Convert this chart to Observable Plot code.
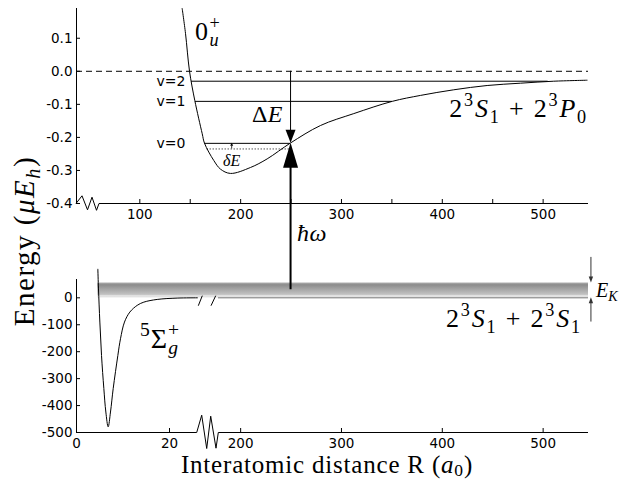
<!DOCTYPE html>
<html><head><meta charset="utf-8">
<script src="https://cdn.jsdelivr.net/npm/d3@7"></script>
<script src="https://cdn.jsdelivr.net/npm/@observablehq/plot@0.6"></script>
<style>
html,body{margin:0;padding:0;background:#fff;}
#chart{position:relative;width:639px;height:481px;background:#fff;}
#chart svg{position:absolute;left:0;top:0;}
</style></head><body><div id="chart"></div>
<script>
// ---------- data ----------
// 0u+ potential (upper panel), R in a0, E in micro-Eh
const upperR = [142.0,145.3,149.3,154.5,161.9,164.2,173.4,180.0,189.9,209.8,226.3,249.4,279.2,312.2,350.3,378.3,411.3,444.5,477.5,510.5,543.6];
const upperE = [0.190,0.115,0.000,-0.088,-0.189,-0.218,-0.270,-0.296,-0.309,-0.291,-0.265,-0.217,-0.164,-0.128,-0.091,-0.073,-0.056,-0.043,-0.036,-0.030,-0.027];
// vibrational levels
const levelName = ["v=0","v=1","v=2"];
const levelE    = [-0.218,-0.091,-0.030];
const levelFrom = [164.2,155.2,151.3];
const levelTo   = [249.4,350.6,505.0];
const levelLabelR = 145.3;
const deltaLevelE = -0.235, deltaFrom = 166.8, deltaTo = 249.4, deltaArrowR = 191.6;
// 5Sigma_g+ potential (lower panel)
const lowerR = [4.59,4.73,5.02,5.38,5.88,6.31,6.81,7.31,7.89,8.89,9.46,10.32,11.47,13.05,14.48,17.35,21.65,26.0];
const lowerE = [106,33,-90,-214,-337,-424,-479,-424,-337,-214,-152,-90,-53,-28,-16,-6,-1,0];
// thermal band E_K and transition
const bandFrom = 4.58, bandTo = 545, bandTop = 55, bandBottom = 0;
const transitionR = 250, transitionTailE = 30, transitionE = -0.218;
const ekR = 547.9;
// ticks
const topYTicks = [0.1,0.0,-0.1,-0.2,-0.3,-0.4];
const topXTicks = [100,150,200,250,300,350,400,450,500];
const lowYTicks = [0,-100,-200,-300,-400,-500];
const lowXTicks = [0,20,200,300,400,500];
// domains (lower x axis is broken between 26.45 and 178)
const topXDomain = [37.2, 545], topYDomain = [-0.4, 0.19];
const lowXPieces = [0, 26.45, 178, 545], lowYDomain = [-500, 68];

// ---------- helpers ----------
const W = 639, H = 481;
const NS = "http://www.w3.org/2000/svg";
const SERIF = "'Liberation Serif', 'DejaVu Serif', serif";
const SANS = "'DejaVu Sans', sans-serif";
function el(name, attrs) { const e = document.createElementNS(NS, name); for (const k in attrs) if (attrs[k] != null) e.setAttribute(k, attrs[k]); return e; }

// broken-axis mapping of the lower panel onto the upper panel's R units
const breakX = d3.scaleLinear().domain(lowXPieces).range([topXDomain[0], 159.2, 178, 545]);

function buildMath(runs, size, anchor, spacing = 0, subShift = 0.22) {
  const text = el("text", {"font-family": SERIF, fill: "black", "text-anchor": anchor, "letter-spacing": spacing, style: "white-space:pre"});
  let cur = 0, lastW = 0;
  for (const r of runs) {
    const small = r.pos === "sup" || r.pos === "sub";
    const fs = small ? size * 0.7 : size;
    const shift = r.pos === "sup" ? -0.42 * size : r.pos === "sub" ? subShift * size : 0;
    const ts = el("tspan", {"font-size": fs, dy: (shift - cur).toFixed(2), dx: r.stack ? (-lastW).toFixed(2) : null, "font-style": r.it ? "italic" : null});
    ts.textContent = r.t;
    text.appendChild(ts);
    cur = shift;
    lastW = r.t.length * 0.56 * fs + spacing;
  }
  return text;
}
function labelMark(runs, xv, yv, size, anchor = "start", spacing = 0) {
  return (index, scales) => {
    const g = el("g", {transform: `translate(${scales.x(xv)},${scales.y(yv)})`});
    g.appendChild(buildMath(runs, size, anchor, spacing));
    return g;
  };
}
// vertical arrow with filled head, positions through the plot's scales
function arrowMark(xv, fromE, toE, len, half, width, color = "black") {
  return (index, scales) => {
    const g = el("g", {});
    const x = scales.x(xv), y1 = scales.y(fromE), y2 = scales.y(toE);
    const dir = Math.sign(y2 - y1);
    g.appendChild(el("line", {x1: x, x2: x, y1: y1, y2: y2 - dir * len * 0.9, stroke: color, "stroke-width": width}));
    g.appendChild(el("path", {d: `M${x},${y2}L${x - half},${y2 - dir * len}L${x + half},${y2 - dir * len}Z`, fill: color}));
    return g;
  };
}
// broken axis baseline with zigzag
function brokenAxis(xStart, xBreak, xEnd, yv, zx, zy) {
  return (index, scales) => {
    const y0 = scales.y(yv) + 0.5;
    const xb = scales.x(xBreak);
    const pts = [[scales.x(xStart), y0]];
    zx.forEach((d, i) => pts.push([xb + d, y0 + zy[i]]));
    pts.push([scales.x(xEnd), y0]);
    return el("path", {d: "M" + pts.map(p => p.join(",")).join("L"), fill: "none", stroke: "black", "stroke-width": 1});
  };
}

const topY = Plot.scale({y: {domain: topYDomain, range: [203, 8]}});
const lowY = Plot.scale({y: {domain: lowYDomain, range: [432, 279]}});
const tipLowE = lowY.invert(topY.apply(transitionE));

const TICKFS = 13.5;
const baseStyle = {fontFamily: SANS, fontSize: TICKFS + "px", color: "black", background: "transparent", overflow: "visible"};
const stateTop = [{t: "2"}, {t: "3", pos: "sup"}, {t: "S", it: true}, {t: "1", pos: "sub"}, {t: " + "}, {t: "2"}, {t: "3", pos: "sup"}, {t: "P", it: true}, {t: "0", pos: "sub"}];
const stateLow = [{t: "2"}, {t: "3", pos: "sup"}, {t: "S", it: true}, {t: "1", pos: "sub"}, {t: " + "}, {t: "2"}, {t: "3", pos: "sup"}, {t: "S", it: true}, {t: "1", pos: "sub"}];

// ---------- upper panel ----------
const topPlot = Plot.plot({
  width: W, height: H,
  marginLeft: 76, marginRight: 51, marginTop: 8, marginBottom: 278,
  x: {domain: topXDomain},
  y: {domain: topYDomain},
  style: baseStyle,
  marks: [
    Plot.ruleY([0], {stroke: "black", strokeDasharray: "6,4"}),
    Plot.ruleY(levelE, {x1: levelFrom, x2: levelTo, stroke: "black"}),
    Plot.ruleY([deltaLevelE], {x1: [deltaFrom], x2: [deltaTo], stroke: "black", strokeDasharray: "1,2"}),
    Plot.line({length: upperR.length}, {x: upperR, y: upperE, curve: "catmull-rom", stroke: "black", strokeWidth: 1}),
    Plot.text(levelName, {x: levelName.map(() => levelLabelR), y: levelE, textAnchor: "end", fontSize: 14, fontFamily: SANS}),
    arrowMark(transitionR, 0, transitionE, 13, 5, 1),
    arrowMark(deltaArrowR, deltaLevelE, levelE[0], 3, 1.5, 0.8),
    labelMark([{t: "0"}, {t: "+", pos: "sup"}, {t: "u", pos: "sub", it: true, stack: true}], 155.2, 0.093, 26, "start", 1.5),
    labelMark([{t: "Δ"}, {t: "E", it: true}], 242.5, -0.155, 24, "end", 0.5),
    labelMark([{t: "δ", it: true}, {t: "E", it: true}], 191.6, -0.288, 16, "middle"),
    labelMark(stateTop, 545, -0.140, 26, "end", 1.8),
    labelMark([{t: "ħ", it: true}, {t: "ω", it: true}], 256.4, -0.515, 24, "start", 0.5),
    Plot.ruleX([topXDomain[0]], {stroke: "black"}),
    brokenAxis(topXDomain[0], topXDomain[0], topXDomain[1], topYDomain[0], [0, 6, 11.5, 16, 20.5, 23], [0, -7.7, 6.3, -6.3, 6.8, 0]),
    Plot.axisY({ticks: topYTicks, tickSize: -4, tickPadding: 8, tickFormat: d => d.toFixed(1), label: null, fontSize: TICKFS}),
    Plot.axisX({ticks: topXTicks, tickSize: -4, tickPadding: 9.5, tickFormat: d => d % 100 === 0 ? String(d) : "", label: null, fontSize: TICKFS})
  ]
});

// ---------- lower panel ----------
const gradDefs = () => {
  const defs = el("defs", {});
  const lg = el("linearGradient", {id: "bandGrad", x1: 0, y1: 0, x2: 0, y2: 1});
  [[0, "#b0b0b0"], [0.15, "#8c8c8c"], [0.8, "#c2c2c2"], [0.9, "#eaeaea"], [1, "#d8d8d8"]].forEach(([o, c]) => lg.appendChild(el("stop", {offset: o, "stop-color": c})));
  defs.appendChild(lg);
  return defs;
};
const slashes = (index, scales) => {
  const g = el("g", {});
  const xb = scales.x(breakX(lowXPieces[1])), y0 = scales.y(0);
  [[-0.7, 3.3], [12, 16.7]].forEach(([a, b]) => g.appendChild(el("line", {x1: xb + a, y1: y0 + 8.4, x2: xb + b, y2: y0 - 1.6, stroke: "black", "stroke-width": 1})));
  return g;
};
const axisLabels = (index, scales, values, dims) => {
  const g = el("g", {});
  const xl = el("g", {transform: `translate(${(dims.marginLeft + dims.width - dims.marginRight) / 2 - 5},${dims.height - 8.5})`});
  xl.appendChild(buildMath([{t: "Interatomic distance R "}, {t: "("}, {t: "a", it: true}, {t: "0", pos: "sub"}, {t: ")"}], 25, "middle", 0.8, 0.15));
  g.appendChild(xl);
  const yl = el("g", {transform: `translate(34,241) rotate(-90)`});
  yl.appendChild(buildMath([{t: "Energy "}, {t: "("}, {t: "μ", it: true}, {t: "E", it: true}, {t: "h", pos: "sub", it: true}, {t: ")"}], 29, "middle", 1.5));
  g.appendChild(yl);
  return g;
};

const lowPlot = Plot.plot({
  width: W, height: H,
  marginLeft: 76, marginRight: 51, marginTop: 279, marginBottom: 49,
  x: {domain: topXDomain},
  y: {domain: lowYDomain},
  style: baseStyle,
  marks: [
    gradDefs,
    Plot.rect([0], {x1: [breakX(bandFrom)], x2: [breakX(bandTo)], y1: [bandBottom], y2: [bandTop], fill: "url(#bandGrad)"}),
    Plot.ruleY([0], {x1: [breakX(lowXPieces[2])], x2: [breakX(bandTo)], stroke: "#777"}),
    Plot.line({length: lowerR.length}, {x: lowerR.map(breakX), y: lowerE, curve: "catmull-rom", stroke: "black", strokeWidth: 1}),
    slashes,
    arrowMark(breakX(transitionR), transitionTailE, tipLowE, 25, 7.5, 2),
    arrowMark(breakX(ekR), 150, bandTop, 6, 2.2, 1, "#333"),
    arrowMark(breakX(ekR), -90, bandBottom, 6, 2.2, 1, "#333"),
    labelMark([{t: "5", pos: "sup"}, {t: "Σ"}, {t: "+", pos: "sup"}, {t: "g", pos: "sub", it: true, stack: true}], breakX(13.76), -188, 28, "start", 1),
    labelMark(stateLow, breakX(539), -110, 26, "end", 1.8),
    labelMark([{t: "E", it: true}, {t: "K", pos: "sub", it: true}], breakX(552.9), 1, 20),
    Plot.ruleX([breakX(0)], {stroke: "black"}),
    brokenAxis(breakX(0), breakX(lowXPieces[1]), breakX(lowXPieces[3]), lowYDomain[0], [-2.3, 2.7, 7.7, 11.7, 17, 19.3], [0, -17.3, 16, -16.3, 15.7, 0]),
    Plot.axisY({ticks: lowYTicks, tickSize: -4, tickPadding: 8, tickFormat: d => String(d), label: null, fontSize: TICKFS}),
    Plot.axisX({ticks: lowXTicks.map(breakX), tickSize: -4, tickPadding: 9.5, tickFormat: v => String(Math.round(breakX.invert(v))), label: null, fontSize: TICKFS}),
    axisLabels
  ]
});

const chart = document.getElementById("chart");
chart.appendChild(topPlot);
chart.appendChild(lowPlot);
</script>
</body></html>
